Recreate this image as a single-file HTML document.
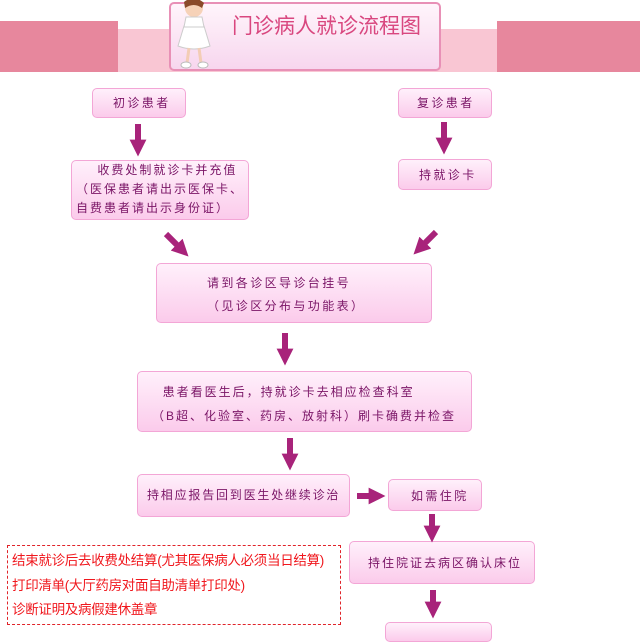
<!DOCTYPE html>
<html><head><meta charset="utf-8"><style>
body{margin:0;width:640px;height:625px;background:#fff;position:relative;overflow:hidden;font-family:"Liberation Sans","Noto Sans CJK SC",sans-serif}
.a{position:absolute}
.b{position:absolute;box-sizing:border-box;border:1px solid #f3a6d6;border-radius:5px;background:linear-gradient(#fff0fb,#fbcbeb);color:#7a1466;font-size:12px;letter-spacing:2.4px;line-height:20px;white-space:nowrap}
.r{color:#f0181e;font-size:13.5px;position:absolute;left:12px;white-space:nowrap;letter-spacing:-0.3px}
</style></head><body>
<div class="a" style="left:0;top:21px;width:118px;height:51px;background:#e7879d"></div>
<div class="a" style="left:118px;top:29px;width:380px;height:43px;background:#f9c6d3"></div>
<div class="a" style="left:497px;top:21px;width:143px;height:51px;background:#e7879d"></div>
<div class="a" style="left:169px;top:2px;width:272px;height:69px;box-sizing:border-box;border:2px solid #e890b6;border-radius:5px;background:linear-gradient(#fff5fb,#f7d6ee)"></div>
<div class="a" style="left:232px;top:10px;font-size:21px;color:#d9477f;letter-spacing:0px;white-space:nowrap">门诊病人就诊流程图</div>
<svg class="a" style="left:172px;top:0" width="55" height="72"><circle cx="22" cy="8" r="9" fill="#f6d2b8"/><path d="M12 2 Q22 -6 32 3 L30 8 Q22 2 13 8Z" fill="#8a4a2a"/><path d="M12 26 L32 26 L38 46 Q22 52 6 46Z" fill="#fff" stroke="#ccc"/><path d="M14 17 L30 17 L32 27 L12 27Z" fill="#fff" stroke="#ccc"/><line x1="17" y1="48" x2="15" y2="63" stroke="#f3cdb5" stroke-width="3"/><line x1="27" y1="48" x2="29" y2="63" stroke="#f3cdb5" stroke-width="3"/><ellipse cx="14" cy="65" rx="5" ry="3" fill="#fff" stroke="#bbb"/><ellipse cx="31" cy="65" rx="5" ry="3" fill="#fff" stroke="#bbb"/></svg>

<div class="b" style="left:92px;top:88px;width:94px;height:30px;padding:4px 0 0 20px">初诊患者</div>
<div class="b" style="left:398px;top:88px;width:94px;height:30px;padding:4px 0 0 18px">复诊患者</div>
<div class="b" style="left:71px;top:160px;width:178px;height:60px;padding:0 0 0 4px;line-height:19px;letter-spacing:2px">&nbsp;&nbsp;&nbsp;&nbsp;收费处制就诊卡并充值<br>（医保患者请出示医保卡、<br>自费患者请出示身份证）</div>
<div class="b" style="left:398px;top:159px;width:94px;height:31px;padding:5px 0 0 20px">持就诊卡</div>
<div class="b" style="left:156px;top:263px;width:276px;height:60px;padding:8px 0 0 50px;line-height:23px">请到各诊区导诊台挂号<br>（见诊区分布与功能表）</div>
<div class="b" style="left:137px;top:371px;width:335px;height:61px;padding:8px 0 0 14px;line-height:24px;letter-spacing:2px">&nbsp;&nbsp;患者看医生后，持就诊卡去相应检查科室<br>（B超、化验室、药房、放射科）刷卡确费并检查</div>
<div class="b" style="left:137px;top:474px;width:213px;height:43px;padding:10px 0 0 9px;letter-spacing:1.8px">持相应报告回到医生处继续诊治</div>
<div class="b" style="left:388px;top:479px;width:94px;height:32px;padding:6px 0 0 22px">如需住院</div>
<div class="b" style="left:349px;top:541px;width:186px;height:43px;padding:11px 0 0 18px;letter-spacing:2px">持住院证去病区确认床位</div>
<div class="b" style="left:385px;top:622px;width:107px;height:20px"></div>

<div class="a" style="left:7px;top:545px;width:334px;height:80px;box-sizing:border-box;border:1px dashed #e0242a"></div>
<div class="r" style="top:549px">结束就诊后去收费处结算(尤其医保病人必须当日结算)</div>
<div class="r" style="top:574px">打印清单(大厅药房对面自助清单打印处)</div>
<div class="r" style="top:598px">诊断证明及病假建休盖章</div>

<svg class="a" style="left:0;top:0" width="640" height="625">
<defs><marker id="m" viewBox="0 0 10 10" refX="2" refY="5" markerWidth="2.8" markerHeight="2.8" orient="auto"><path d="M0 0 L10 5 L0 10Z" fill="#a8237a"/></marker></defs>
<g stroke="#a8237a" stroke-width="6" marker-end="url(#m)">
<line x1="138" y1="124" x2="138" y2="143"/>
<line x1="444" y1="122" x2="444" y2="141"/>
<line x1="166" y1="234" x2="179" y2="247"/>
<line x1="436" y1="232" x2="423" y2="245"/>
<line x1="285" y1="333" x2="285" y2="352"/>
<line x1="290" y1="438" x2="290" y2="457"/>
<line x1="357" y1="496" x2="372" y2="496"/>
<line x1="432" y1="514" x2="432" y2="529"/>
<line x1="433" y1="590" x2="433" y2="605"/>
</g></svg>
</body></html>
